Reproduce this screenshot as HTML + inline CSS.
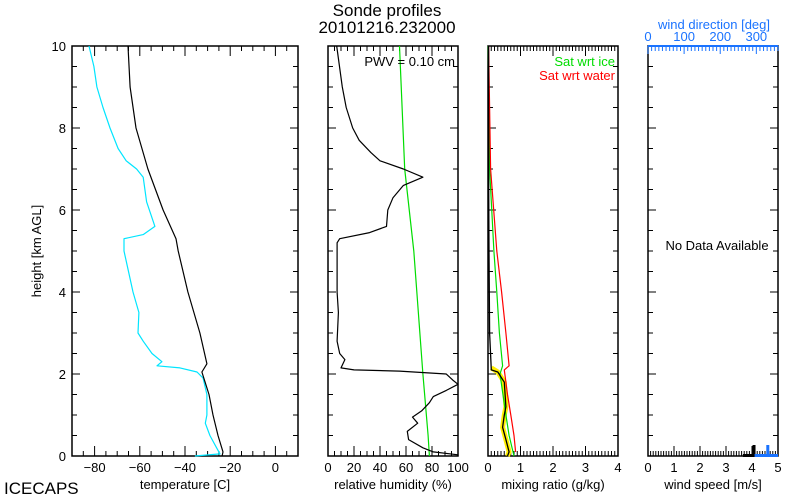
<!DOCTYPE html>
<html><head><meta charset="utf-8"><style>
body{margin:0;background:#fff;}
svg{display:block;font-family:"Liberation Sans",sans-serif;}
</style></head><body>
<svg id="c" width="800" height="500" xmlns="http://www.w3.org/2000/svg"></svg>
<script>
// ---- data ----
const tempH = [0,0.1,0.5,1,1.5,2.05,2.25,3,4,5,5.3,6,7,8,9,10];
const tempT = [-23.6,-23.2,-25.4,-27.6,-29.4,-32.5,-30.3,-33.4,-38.7,-43,-44,-49.7,-56.4,-61.7,-64.3,-65.2];
const dewH = [0,0.05,0.2,0.5,0.8,1,1.5,1.9,2.05,2.15,2.2,2.3,2.5,2.8,3,3.5,4,4.5,5,5.3,5.4,5.6,6.2,6.8,7,7.2,7.5,8,8.5,9,9.5,10];
const dewT = [-35.6,-24.5,-26,-29,-31,-30.3,-30.3,-32,-34.7,-42.2,-52.4,-50.2,-54.6,-58.5,-60.8,-60.4,-63,-65,-67,-67,-58.5,-53.3,-57,-58.5,-61.4,-66,-69.6,-73.2,-76.3,-79,-80.3,-82.5];
const rhH = [0,0.03,0.1,0.2,0.4,0.6,0.8,0.95,1.1,1.3,1.45,1.6,1.75,1.85,2,2.07,2.1,2.15,2.35,2.5,2.8,3.5,4,5.2,5.3,5.45,5.6,6,6.3,6.6,6.8,7,7.2,7.4,7.7,8,8.5,9,10];
const rhV = [100,100,81,73,62,61,69,65,72,78,81,91,100,96,91,55,20,10,13,9,7,8,7,7,9,32,45,46,50,58,73,58,40,33,24,19,14,11,6.7];
const rhIceH = [0,0.5,2,5,7,10];
const rhIceV = [78,77,73,66,59,55];
const mrH = [0,0.1,0.4,0.7,1,1.2,1.8,2.05,2.1,3,5,7,10];
const mrV = [0.6,0.65,0.55,0.45,0.5,0.55,0.5,0.3,0.1,0.05,0.03,0.02,0.02];
const bandH = [0,0.1,0.4,0.7,1,1.2,1.8,2.05,2.15];
const bandV = [0.6,0.65,0.55,0.45,0.5,0.55,0.5,0.3,0.1];
const iceH = [0,0.5,1,2,2.2,3,4,5,7,10];
const iceV = [0.8,0.65,0.55,0.37,0.45,0.35,0.27,0.18,0.05,0.01];
const watH = [0.1,0.5,1,1.5,2.1,2.2,3,4,5,7,10];
const watV = [0.85,0.8,0.7,0.6,0.5,0.65,0.55,0.42,0.27,0.08,0.02];
const tempTicks = [-80,-60,-40,-20,0];
const rhTicks = [0,20,40,60,80,100];
const mrTicks = [0,1,2,3,4];
const wsTicks = [0,1,2,3,4,5];
const wdTicks = [0,100,200,300];
const hTicks = [0,2,4,6,8,10];

const S = document.getElementById('c');
const NS = 'http://www.w3.org/2000/svg';
function el(t, a, p){const e=document.createElementNS(NS,t);for(const k in a)e.setAttribute(k,a[k]);(p||S).appendChild(e);return e;}
const TOP=46, BOT=456;
const y = h => BOT - h*(BOT-TOP)/10;
function mkx(l,r,a,b){return v => l+(v-a)*(r-l)/(b-a);}
const P1={l:72,r:298,x:mkx(72,298,-90,10)};
const P2={l:328,r:458,x:mkx(328,458,0,100)};
const P3={l:488,r:618,x:mkx(488,618,0,4)};
const P4={l:648,r:778,x:mkx(648,778,0,5)};

function frame(P,name,minStep,a,b,maj,ticks,label,topTicks){
  const g=el('g',{});
  
  
  el('rect',{x:P.l,y:TOP,width:P.r-P.l,height:BOT-TOP,fill:'none',stroke:'#000','stroke-width':1.5},g);
  for(let h=0;h<=10.001;h+=0.5){
    const L=(Math.abs(h/2-Math.round(h/2))<1e-6)?8:5;
    el('line',{x1:P.l,x2:P.l+L,y1:y(h),y2:y(h),stroke:'#000'},g);
    el('line',{x1:P.r,x2:P.r-L,y1:y(h),y2:y(h),stroke:'#000'},g);
  }
  for(let v=a;v<=b+1e-6;v+=minStep){
    const isMaj=Math.abs(v/maj-Math.round(v/maj))<1e-6;
    const L=isMaj?10:5, X=P.x(v);
    el('line',{x1:X,x2:X,y1:BOT,y2:BOT-L,stroke:'#000'},g);
    if(topTicks) el('line',{x1:X,x2:X,y1:TOP,y2:TOP+L,stroke:'#000'},g);
  }
  ticks.forEach(v=>{
    const t=el('text',{x:P.x(v),y:472,'font-size':13,'text-anchor':'middle'},g);
    t.textContent=(v<0?'\u2212'+(-v):v);
    
    
  });
  const t=el('text',{x:(P.l+P.r)/2,y:489,'font-size':13,'text-anchor':'middle'},g);
  t.textContent=label;
  
  
}
frame(P1,'temperature-panel',5,-90,10,20,tempTicks,'temperature [C]',true);
frame(P2,'rh-panel',5,0,100,20,rhTicks,'relative humidity (%)',true);
frame(P3,'mixing-ratio-panel',0.1,0,4,1,mrTicks,'mixing ratio (g/kg)',true);
frame(P4,'wind-panel',0.1,0,5,1,wsTicks,'wind speed [m/s]',false);

hTicks.forEach(h=>{
  const t=el('text',{x:66,y:y(h)+5,'font-size':13,'text-anchor':'end'});
  t.textContent=h;
  
  
});
let yl=el('text',{x:0,y:0,'font-size':13,'text-anchor':'middle',transform:'translate(41,251) rotate(-90)'});
yl.textContent='height [km AGL]';



let t1=el('text',{x:387,y:16,'font-size':17,'text-anchor':'middle'});t1.textContent='Sonde profiles';

let t2=el('text',{x:387,y:33,'font-size':17,'text-anchor':'middle'});t2.textContent='20101216.232000';

let t3=el('text',{x:4,y:494,'font-size':17});t3.textContent='ICECAPS';


const wdx=mkx(648,778,0,360);
for(let v=0;v<=360;v+=10){
  const L=(v%100===0)?8:5;
  el('line',{x1:wdx(v),x2:wdx(v),y1:TOP,y2:TOP+L,stroke:'#1a73ff'});
}
el('line',{x1:648,x2:778,y1:TOP,y2:TOP,stroke:'#1a73ff','stroke-width':2});
wdTicks.forEach(v=>{
  const t=el('text',{x:wdx(v),y:41,'font-size':13,'text-anchor':'middle',fill:'#1a73ff'});
  t.textContent=v;
  
  
});
let wt=el('text',{x:714,y:29,'font-size':13,'text-anchor':'middle',fill:'#1a73ff'});wt.textContent='wind direction [deg]';

let nd=el('text',{x:717,y:250,'font-size':13,'text-anchor':'middle'});nd.textContent='No Data Available';

el('rect',{x:P4.x(3.65),y:454,width:P4.x(4.1)-P4.x(3.65),height:3,fill:'#000'});
el('rect',{x:P4.x(4.02),y:445,width:3,height:10,fill:'#000'});
el('rect',{x:P4.x(4.1),y:454,width:P4.x(5)-P4.x(4.1),height:3,fill:'#1a73ff'});
el('rect',{x:P4.x(4.55),y:445,width:3,height:10,fill:'#1a73ff'});

function line(xs,hs,P,color,w,name){
  const d=xs.map((v,i)=>(i?'L':'M')+P.x(v).toFixed(1)+','+y(hs[i]).toFixed(1)).join('');
  const p=el('path',{d:d,fill:'none',stroke:color,'stroke-width':w,'stroke-linejoin':'round'});
  
  
}
line(dewT,dewH,P1,'#00e5ff',1.2,'dewpoint-line');
line(tempT,tempH,P1,'#000',1.2,'temperature-line');
line(rhIceV,rhIceH,P2,'#00dd00',1.2,'rh-ice-line');
line(rhV,rhH,P2,'#000',1.2,'rh-line');
line(bandV,bandH,P3,'#ffee00',5,'mixing-ratio-uncertainty');
line(iceV,iceH,P3,'#00dd00',1.2,'sat-ice-line');
line(watV,watH,P3,'#ff0000',1.2,'sat-water-line');
line(mrV,mrH,P3,'#000',1.3,'mixing-ratio-line');

let pw=el('text',{x:455,y:66,'font-size':13,'text-anchor':'end'});pw.textContent='PWV = 0.10 cm';

let l1=el('text',{x:615,y:66,'font-size':13,'text-anchor':'end',fill:'#00dd00'});l1.textContent='Sat wrt ice';

let l2=el('text',{x:615,y:80,'font-size':13,'text-anchor':'end',fill:'#ff0000'});l2.textContent='Sat wrt water';

</script>
</body></html>
